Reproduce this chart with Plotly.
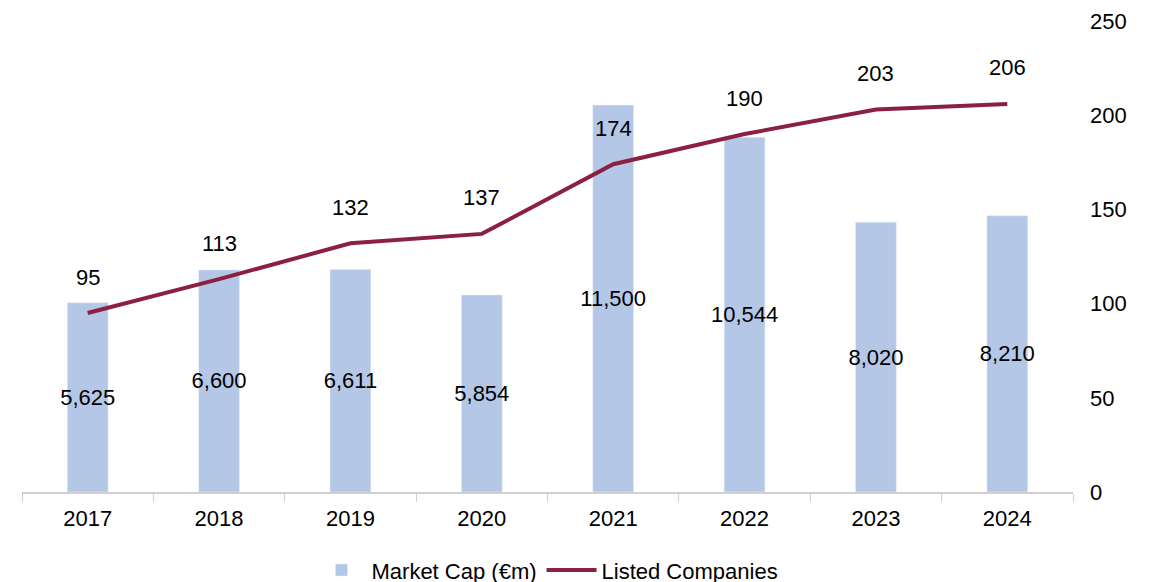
import plotly.graph_objects as go

# ── Data ──────────────────────────────────────────────────────────────────────
years = ["2017", "2018", "2019", "2020", "2021", "2022", "2023", "2024"]
market_cap = [5625, 6600, 6611, 5854, 11500, 10544, 8020, 8210]
listed_companies = [95, 113, 132, 137, 174, 190, 203, 206]

_C = {
    "bar": "#B4C7E7",
    "line": "#8B2040",
    "axis": "#D0D0D0",
    "text": "#000000",
}
_FONT = "Liberation Sans, Arial, sans-serif"
_FS = 22

fig = go.Figure()
fig.add_trace(go.Bar(
    name="Market Cap (€m)",
    x=years,
    y=market_cap,
    marker_color=_C["bar"],
    width=0.31,
    text=[f"{v:,}" for v in market_cap],
    textposition="inside",
    insidetextanchor="middle",
    textangle=0,
    constraintext="none",
    textfont=dict(color=_C["text"], size=_FS),
    yaxis="y",
))
fig.add_trace(go.Scatter(
    name="Listed Companies",
    x=years,
    y=listed_companies,
    mode="lines",
    line=dict(color=_C["line"], width=4),
    yaxis="y2",
))

# line labels sit well above the points (category index for x)
for i, v in enumerate(listed_companies):
    fig.add_annotation(
        x=i, y=v, xref="x", yref="y2", text=str(v), showarrow=False,
        yshift=36, font=dict(size=_FS, color=_C["text"]),
    )

# page body adds ~8px offset, margins compensate
fig.update_layout(
    width=1158,
    height=582,
    paper_bgcolor="white",
    plot_bgcolor="white",
    font=dict(family=_FONT, size=_FS, color=_C["text"]),
    margin=dict(l=14, r=93, t=13, b=98),
    xaxis=dict(
        type="category",
        range=[-0.5, len(years) - 0.5],
        showline=True,
        linecolor=_C["axis"],
        linewidth=1.5,
        ticks="outside",
        tickson="boundaries",
        ticklen=8,
        tickcolor=_C["axis"],
        ticklabelstandoff=6,
        showgrid=False,
        tickangle=0,
        automargin=False,
        tickfont=dict(size=_FS),
    ),
    yaxis=dict(range=[0, 14000], visible=False, showgrid=False),
    yaxis2=dict(
        range=[0, 250],
        tickvals=[0, 50, 100, 150, 200, 250],
        overlaying="y",
        side="right",
        showgrid=False,
        zeroline=False,
        showline=False,
        ticks="",
        ticklabelstandoff=16,
        ticklabeloverflow="allow",
        automargin=False,
        tickfont=dict(size=_FS),
    ),
    legend=dict(
        orientation="h",
        x=0.5,
        xanchor="center",
        yref="container",
        y=0.034,
        yanchor="middle",
        font=dict(size=_FS),
        itemwidth=50,
    ),
    showlegend=True,
)

fig.write_html("out.html")
